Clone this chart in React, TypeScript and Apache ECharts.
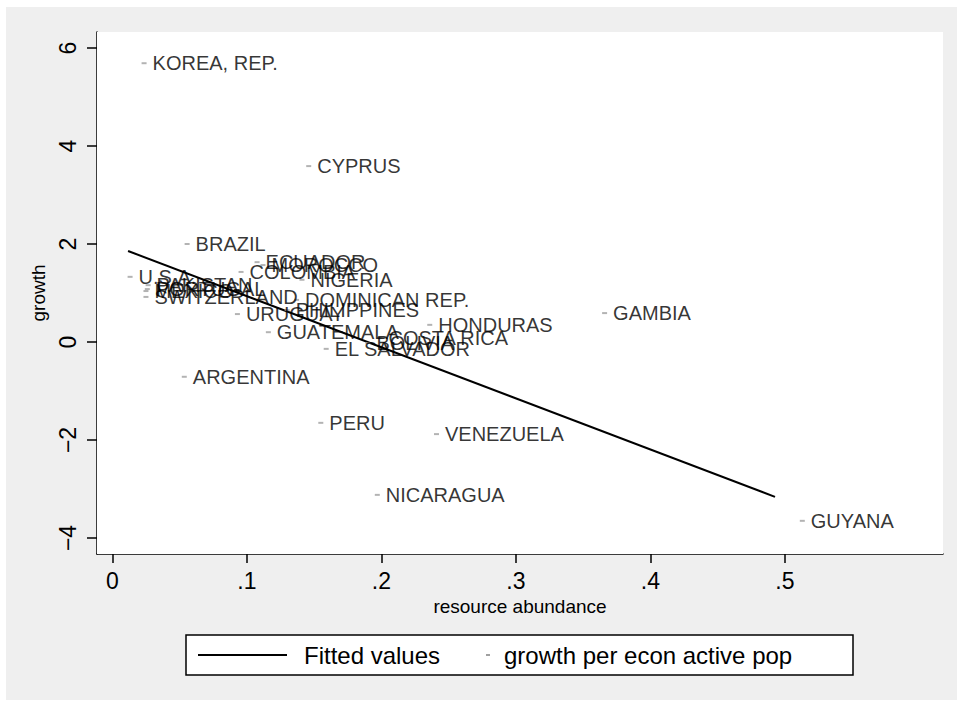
import React, { useEffect, useRef } from "react";
import * as echarts from "echarts";

const countries = [
  "KOREA, REP.", "CYPRUS", "BRAZIL", "ECUADOR", "MOROCCO", "COLOMBIA", "NIGERIA",
  "U.S.A.", "PAKISTAN", "MEXICO", "PORTUGAL", "SWITZERLAND", "DOMINICAN REP.", "PHILIPPINES",
  "URUGUAY", "GUATEMALA", "HONDURAS", "GAMBIA", "COSTA RICA", "BOLIVIA", "EL SALVADOR",
  "ARGENTINA", "PERU", "VENEZUELA", "NICARAGUA", "GUYANA",
];
const resource = [
  0.0236, 0.146, 0.0556, 0.1076, 0.112, 0.0957, 0.141,
  0.0132, 0.0266, 0.025, 0.026, 0.025, 0.137, 0.13,
  0.093, 0.116, 0.236, 0.366, 0.199, 0.19, 0.159,
  0.0535, 0.155, 0.241, 0.197, 0.513,
];
const growth = [
  5.69, 3.59, 2.0, 1.63, 1.57, 1.43, 1.27,
  1.33, 1.16, 1.04, 1.08, 0.92, 0.86, 0.65,
  0.57, 0.2, 0.35, 0.59, 0.08, -0.02, -0.14,
  -0.71, -1.65, -1.88, -3.12, -3.65,
];
const fitX = [0.0117, 0.4927];
const fitY = [1.857, -3.16];
const xTicks = [0, 0.1, 0.2, 0.3, 0.4, 0.5];
const yTicks = [-4, -2, 0, 2, 4, 6];

const FONT = "'Liberation Sans', Arial, Helvetica, sans-serif";

export default function App() {
  const ref = useRef<HTMLDivElement>(null);
  useEffect(() => {
    document.body.style.margin = "0";
    if (!ref.current) return;
    const chart = echarts.init(ref.current, undefined, { renderer: "svg" });
    const scatterData = countries.map((c, i) => ({ name: c, value: [resource[i], growth[i]] }));
    const fitData = fitX.map((x, i) => [x, fitY[i]]);
    chart.setOption({
      animation: false,
      backgroundColor: "#ffffff",
      textStyle: { fontFamily: FONT },
      grid: {
        left: 97,
        top: 32,
        width: 846,
        height: 522,
        show: true,
        backgroundColor: "#ffffff",
        borderWidth: 0,
        z: 1,
      },
      xAxis: {
        type: "value",
        min: -0.0114,
        max: 0.6176,
        name: "resource abundance",
        nameLocation: "middle",
        nameGap: 42,
        nameTextStyle: { fontSize: 19, color: "#000", fontFamily: FONT },
        axisLine: { show: true, onZero: false, lineStyle: { color: "#000", width: 1.5 } },
        axisTick: { show: true, customValues: xTicks, length: 9, lineStyle: { color: "#000", width: 1.5 } },
        axisLabel: {
          customValues: xTicks,
          fontSize: 23,
          color: "#000",
          fontFamily: FONT,
          margin: 15,
          formatter: (v: number) => (v === 0 ? "0" : "." + Math.round(v * 10)),
        },
        splitLine: { show: false },
      },
      yAxis: {
        type: "value",
        min: -4.327,
        max: 6.327,
        name: "growth",
        nameLocation: "middle",
        nameGap: 38,
        nameTextStyle: { fontSize: 19, color: "#000", fontFamily: FONT },
        axisLine: { show: true, onZero: false, lineStyle: { color: "#000", width: 1.5 } },
        axisTick: { show: true, customValues: yTicks, length: 10, lineStyle: { color: "#000", width: 1.5 } },
        axisLabel: {
          customValues: yTicks,
          rotate: 90,
          fontSize: 23,
          color: "#000",
          fontFamily: FONT,
          margin: 18,
          formatter: (v: number) => String(v).replace("-", "\u2212"),
        },
        splitLine: { show: true, lineStyle: { color: "#e6e6e6", width: 2 } },
      },
      graphic: [
        {
          type: "rect",
          z: -100,
          silent: true,
          shape: { x: 6, y: 7, width: 951, height: 693 },
          style: { fill: "#efefef" },
        },
        {
          type: "rect",
          z: 100,
          shape: { x: 186, y: 635, width: 667, height: 40 },
          style: { fill: "#ffffff", stroke: "#000", lineWidth: 1.5 },
        },
        {
          type: "line",
          z: 101,
          shape: { x1: 198, y1: 655, x2: 287, y2: 655 },
          style: { stroke: "#000", lineWidth: 2 },
        },
        {
          type: "text",
          z: 101,
          x: 304,
          y: 655,
          style: { text: "Fitted values", fontSize: 24, fill: "#000", font: `24px ${FONT}`, verticalAlign: "middle" },
        },
        {
          type: "rect",
          z: 101,
          shape: { x: 486, y: 654, width: 4, height: 2 },
          style: { fill: "#a0a0a0" },
        },
        {
          type: "text",
          z: 101,
          x: 504,
          y: 655,
          style: { text: "growth per econ active pop", fontSize: 24, fill: "#000", font: `24px ${FONT}`, verticalAlign: "middle" },
        },
      ],
      series: [
        {
          type: "line",
          name: "Fitted values",
          data: fitData,
          symbol: "none",
          lineStyle: { color: "#000", width: 2 },
          z: 3,
        },
        {
          type: "scatter",
          name: "growth per econ active pop",
          data: scatterData,
          symbol: "rect",
          symbolSize: [5, 2],
          itemStyle: { color: "#a0a0a0" },
          label: {
            show: true,
            position: "right",
            distance: 6,
            formatter: (p: any) => p.name,
            fontSize: 20,
            color: "#000",
            fontFamily: FONT,
          },
          z: 4,
        },
      ],
    });
    return () => chart.dispose();
  }, []);
  return <div ref={ref} style={{ position: "absolute", left: 0, top: 0, width: 957, height: 702 }} />;
}
